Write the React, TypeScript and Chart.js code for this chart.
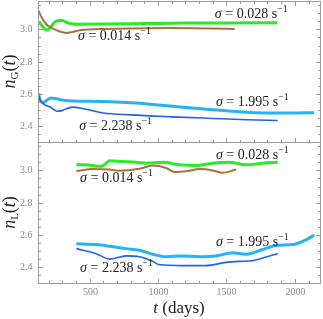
import React, { useEffect, useRef } from "react";
import { Chart, registerables } from "chart.js";

Chart.register(...registerables);

// ---- axis ranges & ticks ----
const X_MIN = 123;
const X_MAX = 2184;
const Y_MIN = 2.302;
const Y_MAX = 3.176;

const xMajorTicks = [500, 1000, 1500, 2000];
const xMinorTicks = [200, 300, 400, 600, 700, 800, 900, 1100, 1200, 1300, 1400, 1600, 1700, 1800, 1900, 2100];
const yMajorTicks = [2.4, 2.6, 2.8, 3.0];
const yMinorTicks = [2.35, 2.45, 2.5, 2.55, 2.65, 2.7, 2.75, 2.85, 2.9, 2.95, 3.05, 3.1, 3.15];

// ---- top panel: n_G(t) ----
const gGreen: [number, number][] = [
  [128, 3.03], [135, 3.04], [150, 3.025], [170, 3.005], [185, 2.996], [200, 3.0], [220, 3.02],
  [245, 3.045], [270, 3.055], [300, 3.055], [330, 3.045], [360, 3.035], [420, 3.032], [600, 3.033],
  [900, 3.036], [1200, 3.039], [1500, 3.04], [1870, 3.041],
];
const gBrown: [number, number][] = [
  [128, 3.115], [140, 3.09], [160, 3.06], [185, 3.03], [220, 3.01], [260, 2.995], [300, 2.983],
  [330, 2.978], [370, 2.983], [430, 2.995], [500, 3.0], [600, 3.003], [800, 3.006], [1100, 3.008],
  [1400, 3.006], [1560, 3.003],
];
const gLightBlue: [number, number][] = [
  [128, 2.605], [132, 2.58], [140, 2.56], [155, 2.545], [170, 2.55], [195, 2.565], [220, 2.575],
  [250, 2.572], [300, 2.562], [350, 2.557], [450, 2.555], [600, 2.553], [800, 2.545], [1000, 2.532],
  [1200, 2.516], [1400, 2.502], [1600, 2.489], [1800, 2.482], [2000, 2.482], [2140, 2.483],
];
const gDarkBlue: [number, number][] = [
  [128, 2.59], [140, 2.56], [160, 2.54], [185, 2.527], [210, 2.52], [235, 2.505], [260, 2.493],
  [290, 2.495], [330, 2.508], [380, 2.518], [430, 2.513], [500, 2.5], [600, 2.482], [800, 2.47],
  [1100, 2.458], [1400, 2.448], [1650, 2.44], [1875, 2.435],
];

// ---- bottom panel: n_L(t) ----
const lGreen: [number, number][] = [
  [403, 3.035], [476, 3.035], [561, 3.025], [600, 3.03], [646, 3.06], [741, 3.055], [841, 3.05],
  [914, 3.045], [1035, 3.05], [1157, 3.035], [1279, 3.03], [1400, 3.045], [1522, 3.05],
  [1644, 3.035], [1765, 3.045], [1875, 3.05],
];
const lBrown: [number, number][] = [
  [403, 2.996], [525, 3.009], [646, 3.005], [719, 2.998], [865, 3.01], [962, 3.03], [1059, 3.015],
  [1121, 2.99], [1205, 2.994], [1303, 3.009], [1400, 3.0], [1473, 2.985], [1571, 3.005],
];
const lLightBlue: [number, number][] = [
  [403, 2.546], [549, 2.54], [646, 2.53], [768, 2.515], [865, 2.505], [962, 2.48], [1059, 2.465],
  [1181, 2.47], [1303, 2.465], [1425, 2.47], [1546, 2.49], [1644, 2.48], [1765, 2.51], [1863, 2.535],
  [1984, 2.54], [2082, 2.57], [2142, 2.6],
];
const lDarkBlue: [number, number][] = [
  [403, 2.515], [549, 2.484], [646, 2.45], [768, 2.47], [865, 2.465], [962, 2.436], [1011, 2.415],
  [1181, 2.41], [1351, 2.41], [1497, 2.43], [1595, 2.436], [1692, 2.44], [1790, 2.463], [1875, 2.484],
];

// ---- curve labels: sigma values ----
const sigmaLabels = [
  { axis: "yG", x: 1682, y: 3.101, value: "0.028" },
  { axis: "yG", x: 682, y: 2.965, value: "0.014" },
  { axis: "yG", x: 1690, y: 2.551, value: "1.995" },
  { axis: "yG", x: 690, y: 2.403, value: "2.238" },
  { axis: "yL", x: 1690, y: 3.098, value: "0.028" },
  { axis: "yL", x: 697, y: 2.955, value: "0.014" },
  { axis: "yL", x: 1690, y: 2.557, value: "1.995" },
  { axis: "yL", x: 697, y: 2.395, value: "2.238" },
];

const GREEN = "#26ec22";
const BROWN = "#a8703c";
const LIGHTBLUE = "#22b4f7";
const DARKBLUE = "#2360ee";
const SERIF = '"Liberation Serif", "DejaVu Serif", serif';
const TICK_COLOR = "#8a8a8a";

type Run = { t: string; font: string; dy?: number };

function drawRuns(ctx: CanvasRenderingContext2D, runs: Run[], cx: number, baseline: number) {
  const widths = runs.map((r) => {
    ctx.font = r.font;
    return ctx.measureText(r.t).width;
  });
  const total = widths.reduce((a, b) => a + b, 0);
  let x = cx - total / 2;
  ctx.textAlign = "left";
  ctx.textBaseline = "alphabetic";
  runs.forEach((r, i) => {
    ctx.font = r.font;
    ctx.fillText(r.t, x, baseline + (r.dy || 0));
    x += widths[i];
  });
}

const framePlugin = {
  id: "frame",
  afterDraw(chart: any) {
    const ctx: CanvasRenderingContext2D = chart.ctx;
    const { left, right, top, bottom } = chart.chartArea;
    const xs = chart.scales.x;
    const yG = chart.scales.yG;
    const yL = chart.scales.yL;
    const L = Math.round(left) + 0.5;
    const R = Math.round(right) + 0.5;
    const T = Math.round(top) + 0.5;
    const B = Math.round(bottom) + 0.5;
    const D = Math.round(yG.bottom) + 0.5;
    ctx.save();
    ctx.strokeStyle = "#9c9c9c";
    ctx.lineWidth = 1;
    const line = (x1: number, y1: number, x2: number, y2: number) => {
      ctx.beginPath();
      ctx.moveTo(x1, y1);
      ctx.lineTo(x2, y2);
      ctx.stroke();
    };
    ctx.strokeRect(L, T, R - L, B - T);
    line(L, D, R, D);

    // y ticks + labels
    ctx.font = `10px ${SERIF}`;
    ctx.fillStyle = TICK_COLOR;
    [yG, yL].forEach((s: any) => {
      const draw = (v: number, len: number, label: boolean) => {
        const py = Math.round(s.getPixelForValue(v)) + 0.5;
        if (py < s.top || py > s.bottom) return;
        line(L, py, L + len, py);
        line(R, py, R - len, py);
        if (label) {
          ctx.textAlign = "right";
          ctx.textBaseline = "middle";
          ctx.fillText(v.toFixed(1), L - 6, py);
        }
      };
      yMajorTicks.forEach((v) => draw(v, 4.5, true));
      yMinorTicks.forEach((v) => draw(v, 2.5, false));
    });
    // x ticks + labels
    const drawX = (v: number, len: number, label: boolean) => {
      const px = Math.round(xs.getPixelForValue(v)) + 0.5;
      line(px, T, px, T + len);
      line(px, D, px, D - len);
      line(px, B, px, B - len);
      if (label) {
        ctx.textAlign = "center";
        ctx.textBaseline = "middle";
        ctx.fillText(String(v), px, B + 9);
      }
    };
    xMajorTicks.forEach((v) => drawX(v, 4.5, true));
    xMinorTicks.forEach((v) => drawX(v, 2.5, false));

    // sigma labels
    ctx.fillStyle = "#222";
    sigmaLabels.forEach((lb) => {
      const s = chart.scales[lb.axis];
      const cx = xs.getPixelForValue(lb.x);
      const cy = s.getPixelForValue(lb.y);
      drawRuns(
        ctx,
        [
          { t: "σ", font: `italic 14px ${SERIF}` },
          { t: " = " + lb.value + " ", font: `14px ${SERIF}` },
          { t: "s", font: `14px ${SERIF}` },
          { t: "−1", font: `10px ${SERIF}`, dy: -6 },
        ],
        cx,
        cy + 4.5
      );
    });

    // y titles (rotated)
    [
      { s: yG, sub: "G" },
      { s: yL, sub: "L" },
    ].forEach(({ s, sub }) => {
      ctx.save();
      ctx.translate(15, (s.top + s.bottom) / 2);
      ctx.rotate(-Math.PI / 2);
      drawRuns(
        ctx,
        [
          { t: "n", font: `italic 18px ${SERIF}` },
          { t: sub, font: `11px ${SERIF}`, dy: 3 },
          { t: "(", font: `18px ${SERIF}` },
          { t: "t", font: `italic 18px ${SERIF}` },
          { t: ")", font: `18px ${SERIF}` },
        ],
        0,
        0
      );
      ctx.restore();
    });

    // x title
    drawRuns(
      ctx,
      [
        { t: "t", font: `italic 17px ${SERIF}` },
        { t: " (days)", font: `17px ${SERIF}` },
      ],
      (left + right) / 2,
      313
    );
    ctx.restore();
  },
};

function ds(points: [number, number][], color: string, width: number, axis: string) {
  return {
    data: points.map(([x, y]) => ({ x, y })),
    borderColor: color,
    backgroundColor: color,
    borderWidth: width,
    pointRadius: 0,
    cubicInterpolationMode: "monotone" as const,
    yAxisID: axis,
    fill: false,
  };
}

export default function App() {
  const ref = useRef<HTMLCanvasElement | null>(null);
  useEffect(() => {
    document.body.style.margin = "0";
    const canvas = ref.current;
    if (!canvas) return;
    const yScale = () => ({
      type: "linear" as const,
      position: "left" as const,
      stack: "panels",
      stackWeight: 1,
      min: Y_MIN,
      max: Y_MAX,
      grid: { display: false },
      border: { display: false },
      ticks: { display: false },
      afterFit: (s: any) => {
        s.width = 38;
      },
    });
    const chart = new Chart(canvas, {
      type: "line",
      data: {
        datasets: [
          ds(gBrown, BROWN, 2, "yG"),
          ds(gGreen, GREEN, 3, "yG"),
          ds(gDarkBlue, DARKBLUE, 1.6, "yG"),
          ds(gLightBlue, LIGHTBLUE, 3, "yG"),
          ds(lBrown, BROWN, 2, "yL"),
          ds(lGreen, GREEN, 3, "yL"),
          ds(lDarkBlue, DARKBLUE, 1.6, "yL"),
          ds(lLightBlue, LIGHTBLUE, 3, "yL"),
        ] as any,
      },
      options: {
        animation: false,
        responsive: false,
        devicePixelRatio: 1,
        layout: { padding: { top: 1, right: 3, left: 0, bottom: 0 } },
        plugins: { legend: { display: false }, tooltip: { enabled: false } },
        scales: {
          x: {
            type: "linear",
            min: X_MIN,
            max: X_MAX,
            grid: { display: false },
            border: { display: false },
            ticks: { display: false },
            afterFit: (s: any) => {
              s.height = 36;
            },
          },
          // first stacked scale is placed at the bottom
          yL: yScale(),
          yG: yScale(),
        } as any,
      },
      plugins: [framePlugin],
    });
    return () => chart.destroy();
  }, []);
  return (
    <div style={{ width: 323, height: 319 }}>
      <canvas ref={ref} width={323} height={319} style={{ display: "block" }} />
    </div>
  );
}
